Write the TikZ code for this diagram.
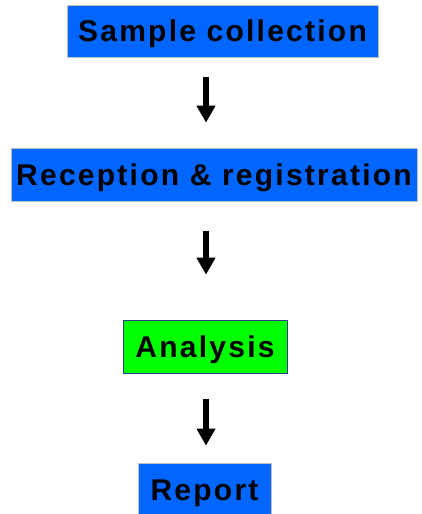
\documentclass[tikz,border=0pt]{standalone}
\usepackage{fontspec}
\setmainfont{Liberation Sans}[BoldFont={Liberation Sans Bold}]
\newfontfamily\boxfont{Liberation Sans Bold}[LetterSpace=7.5]
\usepackage{xcolor}
\usetikzlibrary{arrows.meta}
\definecolor{stepblue}{RGB}{0,102,255}
\definecolor{stepgreen}{RGB}{0,255,0}
\definecolor{stepedge}{RGB}{45,60,140}

\begin{document}
\begin{tikzpicture}[x=1pt,y=-1pt,
	stagebox/.style={fill=stepblue, draw=black!25, line width=0.8pt, inner sep=0pt,
		font=\boxfont\fontsize{30}{33}\selectfont, text=black, text height=21.5pt, text depth=0pt},
	flowarrow/.style={line width=5.5pt, -{Triangle[width=18pt,length=17pt]}}]
		\useasboundingbox (0,0) rectangle (421,514);
		\begin{scope}
		\clip (0,0) rectangle (421,514);
		\node[stagebox, minimum width=311pt, minimum height=52pt] (sample) at (222.5,31) {Sample collection};
		\node[stagebox, minimum width=406pt, minimum height=53pt] (reception) at (214,174.5) {Reception \& registration};
		\node[stagebox, fill=stepgreen, draw=stepedge, minimum width=164pt, minimum height=53pt] (analysis) at (205,346.5) {Analysis};
		\node[stagebox, minimum width=133pt, minimum height=53pt] (report) at (204.5,489.5) {Report};
		\end{scope}
		\coordinate (axis) at (206,0);
		\draw[flowarrow, shorten <=20pt, shorten >=25pt] (sample.south -| axis) -- (reception.north -| axis);
		\draw[flowarrow, shorten <=30pt, shorten >=45pt] (reception.south -| axis) -- (analysis.north -| axis);
		\draw[flowarrow, shorten <=26pt, shorten >=17pt] (analysis.south -| axis) -- (report.north -| axis);
\end{tikzpicture}
\end{document}
